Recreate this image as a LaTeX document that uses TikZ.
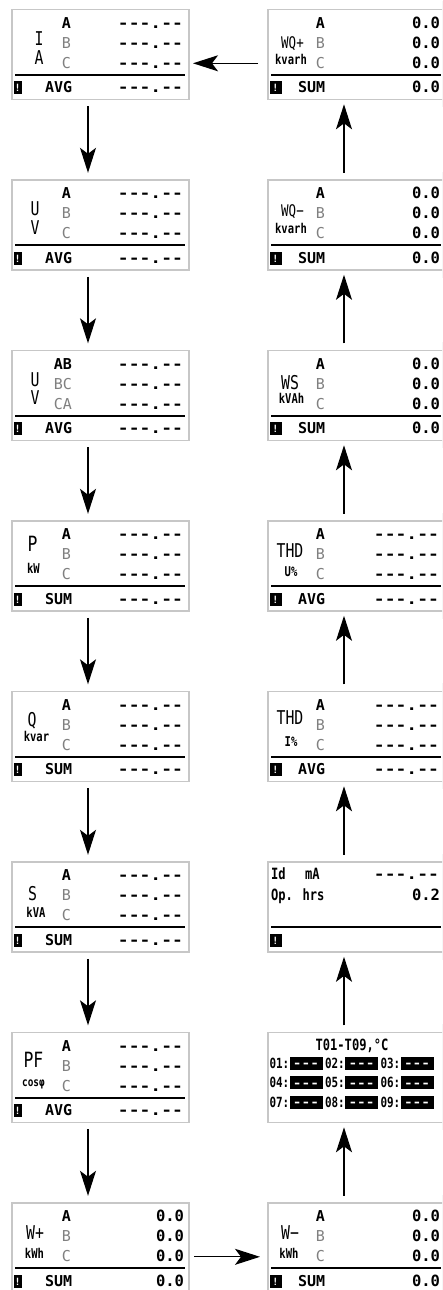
\documentclass[tikz,border=0pt]{standalone}
\usepackage{fontspec}
\usetikzlibrary{arrows.meta,backgrounds}
% LCD-like faces
\newfontfamily\lcdfont{DejaVu Sans Mono}
\newfontfamily\lcdnarrow[FakeStretch=0.78]{DejaVu Sans Mono}
\newfontfamily\lcdwide[FakeStretch=1.2]{DejaVu Sans Mono}

\tikzset{
  every node/.style={inner sep=0pt, outer sep=0pt},
  panel/.style={draw=black!22, line width=1.5pt, fill=white,
    minimum width=177pt, minimum height=90pt},
  halo/.style={fill=black!4},
  rowlab/.style={font=\lcdfont\bfseries\fontsize{15}{15}\selectfont,
    text height=11pt, text depth=0pt, anchor=east},
  dim/.style={text=black!50, font=\lcdfont\fontsize{15}{15}\selectfont},
  foot/.style={font=\lcdfont\bfseries\fontsize{15}{15}\selectfont,
    text height=11pt, text depth=0pt, anchor=west},
  dashval/.style={font=\lcdwide\bfseries\fontsize{15}{15}\selectfont,
    text height=11pt, text depth=0pt, anchor=east},
  numval/.style={font=\lcdfont\bfseries\fontsize{15.5}{15.5}\selectfont,
    text height=11.3pt, text depth=0pt, anchor=east},
  mainlab/.style={font=\lcdnarrow\fontsize{19}{19}\selectfont,
    text height=13.8pt, text depth=0pt},
  biglab/.style={font=\lcdnarrow\fontsize{21}{21}\selectfont,
    text height=15.3pt, text depth=0pt},
  smalllab/.style={font=\lcdnarrow\fontsize{16}{16}\selectfont,
    text height=11.7pt, text depth=0pt},
  unitlab/.style={font=\lcdnarrow\bfseries\fontsize{13.5}{14}\selectfont,
    text height=10pt, text depth=0pt},
  idtxt/.style={font=\lcdnarrow\bfseries\fontsize{15.5}{15.5}\selectfont,
    text height=11.3pt, text depth=0pt, anchor=west},
  icontxt/.style={font=\lcdfont\bfseries\fontsize{10}{10}\selectfont,
    text=white, text height=7.5pt, text depth=0pt},
  cellnum/.style={font=\lcdnarrow\bfseries\fontsize{14}{14}\selectfont,
    text height=10.2pt, text depth=0pt, anchor=west},
  celldash/.style={font=\lcdwide\bfseries\fontsize{12}{12}\selectfont,
    text=white, text height=8.7pt, text depth=0pt},
  divider/.style={line width=2.2pt},
  flow/.style={line width=1.3pt, -{Stealth[length=25pt,width=16pt,inset=6pt]}},
}

% row letters A/B/C, east edge at #1
\newcommand\rowsabc[1]{%
  \node[rowlab] (\pfx-ra) at (#1,13.5) {A};
  \node[rowlab,dim] (\pfx-rb) at (#1,33.5) {B};
  \node[rowlab,dim] (\pfx-rc) at (#1,53.5) {C};}
\newcommand\dashvals{%
  \node[dashval] (\pfx-va) at (171,13.5) {---.--};
  \node[dashval] (\pfx-vb) at (171,33.5) {---.--};
  \node[dashval] (\pfx-vc) at (171,53.5) {---.--};}
\newcommand\zerovals{%
  \node[numval] (\pfx-va) at (172,13.5) {0.0};
  \node[numval] (\pfx-vb) at (172,33.5) {0.0};
  \node[numval] (\pfx-vc) at (172,53.5) {0.0};}
% divider and status icon; #1 = icon right edge
\newcommand\footbar[1]{%
  \draw[divider] (3,65.5) -- (173,65.5);
  \fill (1.5,72) rectangle (#1,85);
  \node[icontxt] (\pfx-ic) at ({(1.5+#1)/2},78.5) {!};}
% footer with label, then dashes or zero
\newcommand\footdash[3]{\footbar{#1}%
  \node[foot] (\pfx-fl) at (#2,78) {#3};
  \node[dashval] (\pfx-fv) at (171,78) {---.--};}
\newcommand\footzero[3]{\footbar{#1}%
  \node[foot] (\pfx-fl) at (#2,78) {#3};
  \node[numval] (\pfx-fv) at (172,78) {0.0};}

\begin{document}
\begin{tikzpicture}[x=1pt,y=-1pt]
\useasboundingbox (0,0) rectangle (442,1290);
\clip (0,0) rectangle (442,1290);
\fill[white] (0,0) rectangle (442,1290);

% ---------------- left column ----------------
\node[panel] (I) at (100.5,54.3) {};
\begin{scope}[shift={(12,9.3)}]\def\pfx{I}
  \node[mainlab] (I-m) at (27,29) {I};
  \node[mainlab] (I-u) at (27,48) {A};
  \rowsabc{59}\dashvals\footdash{9.7}{33}{AVG}
\end{scope}

\node[panel] (U) at (100.5,224.8) {};
\begin{scope}[shift={(12,179.8)}]\def\pfx{U}
  \node[mainlab] (U-m) at (23,28.5) {U};
  \node[mainlab] (U-u) at (23,47.5) {V};
  \rowsabc{59}\dashvals\footdash{9.7}{33}{AVG}
\end{scope}

\node[panel] (UL) at (100.5,395.3) {};
\begin{scope}[shift={(12,350.3)}]\def\pfx{UL}
  \node[mainlab] (UL-m) at (23,29.5) {U};
  \node[mainlab] (UL-u) at (23,47.5) {V};
  \node[rowlab] (UL-ra) at (60,13.5) {AB};
  \node[rowlab,dim] (UL-rb) at (60,33.5) {BC};
  \node[rowlab,dim] (UL-rc) at (60,53.5) {CA};
  \dashvals\footdash{9.7}{33}{AVG}
\end{scope}

\node[panel] (P) at (100.5,565.8) {};
\begin{scope}[shift={(12,520.8)}]\def\pfx{P}
  \node[biglab] (P-m) at (20.5,23) {P};
  \node[unitlab] (P-u) at (21.5,47.5) {kW};
  \rowsabc{59}\dashvals\footdash{9.7}{33}{SUM}
\end{scope}

\node[panel] (Q) at (100.5,736.3) {};
\begin{scope}[shift={(12,691.3)}]\def\pfx{Q}
  \node[mainlab] (Q-m) at (20,28.5) {Q};
  \node[unitlab] (Q-u) at (24.5,45) {kvar};
  \rowsabc{59}\dashvals\footdash{9.7}{33}{SUM}
\end{scope}

\node[panel] (S) at (100.5,906.8) {};
\begin{scope}[shift={(12,861.8)}]\def\pfx{S}
  \node[mainlab] (S-m) at (20.5,32) {S};
  \node[unitlab] (S-u) at (24,50.5) {kVA};
  \rowsabc{59}\dashvals\footdash{9.7}{33}{SUM}
\end{scope}

\node[panel] (PF) at (100.5,1077.3) {};
\begin{scope}[shift={(12,1032.3)}]\def\pfx{PF}
  \node[biglab] (PF-m) at (21.5,28) {PF};
  \node[unitlab,font=\lcdnarrow\bfseries\fontsize{12}{12}\selectfont] (PF-u) at (21.5,49.5) {cosφ};
  \rowsabc{59}\dashvals\footdash{9.7}{33}{AVG}
\end{scope}

\node[panel] (Wp) at (100.5,1247.8) {};
\begin{scope}[shift={(12,1202.8)}]\def\pfx{Wp}
  \node[mainlab] (Wp-m) at (23,29.5) {W+};
  \node[unitlab] (Wp-u) at (22.5,50.5) {kWh};
  \rowsabc{59}\zerovals\footzero{9.7}{33}{SUM}
\end{scope}

% ---------------- right column ----------------
\node[panel] (WQp) at (356.5,54.3) {};
\begin{scope}[shift={(268,9.3)}]\def\pfx{WQp}
  \node[smalllab] (WQp-m) at (24.5,33) {WQ+};
  \node[unitlab] (WQp-u) at (23,50) {kvarh};
  \rowsabc{57}\zerovals\footzero{13.5}{30}{SUM}
\end{scope}

\node[panel] (WQm) at (356.5,224.8) {};
\begin{scope}[shift={(268,179.8)}]\def\pfx{WQm}
  \node[smalllab] (WQm-m) at (24.5,30.5) {WQ−};
  \node[unitlab] (WQm-u) at (23,49) {kvarh};
  \rowsabc{57}\zerovals\footzero{13.5}{30}{SUM}
\end{scope}

\node[panel] (WS) at (356.5,395.3) {};
\begin{scope}[shift={(268,350.3)}]\def\pfx{WS}
  \node[mainlab] (WS-m) at (22,32) {WS};
  \node[unitlab] (WS-u) at (23.5,48) {kVAh};
  \rowsabc{57}\zerovals\footzero{13.5}{30}{SUM}
\end{scope}

\node[panel] (THDU) at (356.5,565.8) {};
\begin{scope}[shift={(268,520.8)}]\def\pfx{THDU}
  \node[mainlab] (THDU-m) at (22,30) {THD};
  \node[unitlab] (THDU-u) at (23,51) {U\%};
  \rowsabc{57}\dashvals\footdash{13.5}{30}{AVG}
\end{scope}

\node[panel] (THDI) at (356.5,736.3) {};
\begin{scope}[shift={(268,691.3)}]\def\pfx{THDI}
  \node[mainlab] (THDI-m) at (22,26) {THD};
  \node[unitlab] (THDI-u) at (23,50.5) {I\%};
  \rowsabc{57}\dashvals\footdash{13.5}{30}{AVG}
\end{scope}

\node[panel] (Id) at (356.5,906.8) {};
\begin{scope}[shift={(268,861.8)}]\def\pfx{Id}
  \node[idtxt] (Id-a) at (3,12) {Id};
  \node[idtxt] (Id-b) at (37,12) {mA};
  \node[dashval] (Id-c) at (171,12) {---.--};
  \node[idtxt] (Id-d) at (3,33) {Op. hrs};
  \node[numval] (Id-e) at (172,33) {0.2};
  \footbar{13.5}
\end{scope}

\node[panel] (Temp) at (356.5,1077.3) {};
\begin{scope}[shift={(268,1032.3)}]\def\pfx{Temp}
  \node[idtxt,anchor=center] (Temp-t) at (84,13) {T01-T09,°C};
  \foreach \r/\yy in {0/31,1/50.5,2/70}{
    \foreach \c in {0,1,2}{
      \pgfmathtruncatemacro\n{\r*3+\c+1}
      \pgfmathsetmacro\xx{1.5+\c*55.5}
      \node[cellnum] (Temp-l\n) at (\xx,\yy) {0\n:};
      \fill (\xx+20,\yy-6.5) rectangle (\xx+53,\yy+6.5);
      \node[celldash] (Temp-v\n) at (\xx+36.5,\yy) {---};
    }
  }
\end{scope}

\node[panel] (Wm) at (356.5,1247.8) {};
\begin{scope}[shift={(268,1202.8)}]\def\pfx{Wm}
  \node[mainlab] (Wm-m) at (22,29.5) {W−};
  \node[unitlab] (Wm-u) at (21,50.5) {kWh};
  \rowsabc{57}\zerovals\footzero{13.5}{30}{SUM}
\end{scope}

% soft margin around every panel
\begin{scope}[on background layer]
  \foreach \b in {I,U,UL,P,Q,S,PF,Wp,WQp,WQm,WS,THDU,THDI,Id,Temp,Wm}
    \fill[halo] ([shift={(-9pt,8pt)}]\b.north west) rectangle ([shift={(6pt,-8pt)}]\b.south east);
\end{scope}

% ---------------- navigation arrows ----------------
\foreach \a/\b in {I/U,U/UL,UL/P,P/Q,Q/S,S/PF,PF/Wp}
  \draw[flow] ([shift={(-12.5pt,-7pt)}]\a.south) -- ([shift={(-12.5pt,7pt)}]\b.north);
\foreach \a/\b in {Wm/Temp,Temp/Id,Id/THDI,THDI/THDU,THDU/WS,WS/WQm,WQm/WQp}
  \draw[flow] ([shift={(-12.5pt,7pt)}]\a.north) -- ([shift={(-12.5pt,-5pt)}]\b.south);
\draw[flow] ([shift={(-10pt,-9pt)}]WQp.west) -- ([shift={(4pt,-9pt)}]I.east);
\draw[flow] ([shift={(5pt,-9pt)}]Wp.east) -- ([shift={(-8pt,-9pt)}]Wm.west);
\end{tikzpicture}
\end{document}
